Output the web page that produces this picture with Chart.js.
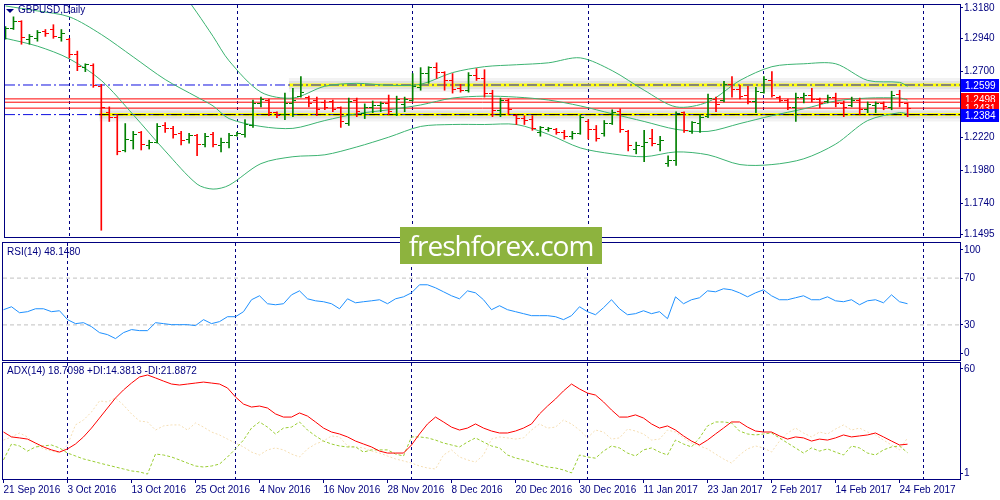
<!DOCTYPE html>
<html>
<head>
<meta charset="utf-8">
<title>GBPUSD Daily</title>
<script src="https://cdn.jsdelivr.net/npm/chart.js@4.4.1/dist/chart.umd.min.js"></script>
<style>
  html, body { margin: 0; padding: 0; background: #fff; }
  body { position: relative; width: 1000px; height: 500px; overflow: hidden; font-family: 'Liberation Sans', Arial, sans-serif; }
  canvas { position: absolute; left: 0; }
  #priceChart { top: 0; }
  #rsiChart { top: 242px; }
  #adxChart { top: 362px; }
  .caption { position: absolute; font-size: 10px; color: #000080; white-space: nowrap; }
  .arrow { position: absolute; left: 6px; top: 9px; width: 0; height: 0; border-left: 4px solid transparent; border-right: 4px solid transparent; border-top: 4px solid #000080; }
  .watermark { position: absolute; left: 400px; top: 227px; width: 202px; height: 37px; background: #8db33e; color: #fff; font-family: 'Open Sans', sans-serif; font-size: 28px; letter-spacing: -1px; line-height: 37px; text-align: center; }
</style>
</head>
<body>
<canvas id="priceChart" width="1000" height="242"></canvas>
<canvas id="rsiChart" width="1000" height="120"></canvas>
<canvas id="adxChart" width="1000" height="138"></canvas>
<div class="arrow"></div>
<div class="caption" style="left:18px;top:4px">GBPUSD,Daily</div>
<div class="caption" style="left:7px;top:246px">RSI(14) 48.1480</div>
<div class="caption" style="left:7px;top:365px">ADX(14) 18.7098 +DI:14.3813 -DI:21.8872</div>
<div class="watermark">freshforex.com</div>
<script>
// Bougies journalières : index 0 = 21 Sep 2016 ... index 113 = 27 Feb 2017
const opens = [
  1.2945, 1.3009, 1.3059, 1.2931, 1.2938, 1.2988, 1.3002, 1.2945, 1.2931, 1.2824,
  1.2725, 1.2739, 1.2590, 1.2398, 1.2362, 1.2120, 1.2198, 1.2255, 1.2163, 1.2184,
  1.2305, 1.2284, 1.2248, 1.2206, 1.2234, 1.2170, 1.2241, 1.2163, 1.2184, 1.2234,
  1.2241, 1.2305, 1.2462, 1.2490, 1.2398, 1.2383, 1.2462, 1.2518, 1.2511, 1.2490,
  1.2469, 1.2476, 1.2433, 1.2319, 1.2490, 1.2390, 1.2433, 1.2447, 1.2462, 1.2383,
  1.2454, 1.2490, 1.2582, 1.2682, 1.2725, 1.2689, 1.2632, 1.2575, 1.2561, 1.2668,
  1.2646, 1.2540, 1.2412, 1.2483, 1.2376, 1.2355, 1.2348, 1.2255, 1.2277, 1.2277,
  1.2255, 1.2227, 1.2248, 1.2334, 1.2277, 1.2248, 1.2319, 1.2405, 1.2262, 1.2134,
  1.2149, 1.2213, 1.2170, 1.2028, 1.2049, 1.2398, 1.2262, 1.2319, 1.2369, 1.2497,
  1.2490, 1.2604, 1.2568, 1.2526, 1.2476, 1.2547, 1.2632, 1.2511, 1.2490, 1.2433,
  1.2511, 1.2526, 1.2497, 1.2476, 1.2511, 1.2462, 1.2447, 1.2490, 1.2419, 1.2447,
  1.2462, 1.2433, 1.2533, 1.2462
];
const highs = [
  1.3023, 1.3094, 1.3066, 1.2966, 1.2995, 1.3002, 1.3037, 1.3002, 1.2938, 1.2845,
  1.2753, 1.2753, 1.2604, 1.2440, 1.2383, 1.2319, 1.2262, 1.2262, 1.2198, 1.2319,
  1.2326, 1.2298, 1.2262, 1.2248, 1.2241, 1.2248, 1.2255, 1.2213, 1.2248, 1.2255,
  1.2348, 1.2490, 1.2511, 1.2497, 1.2405, 1.2540, 1.2575, 1.2661, 1.2518, 1.2511,
  1.2490, 1.2490, 1.2440, 1.2504, 1.2504, 1.2462, 1.2483, 1.2476, 1.2526, 1.2518,
  1.2511, 1.2682, 1.2725, 1.2732, 1.2760, 1.2696, 1.2682, 1.2604, 1.2689, 1.2718,
  1.2710, 1.2561, 1.2504, 1.2497, 1.2383, 1.2376, 1.2376, 1.2298, 1.2291, 1.2284,
  1.2270, 1.2262, 1.2383, 1.2348, 1.2305, 1.2341, 1.2419, 1.2426, 1.2270, 1.2184,
  1.2270, 1.2277, 1.2227, 1.2085, 1.2405, 1.2405, 1.2334, 1.2383, 1.2533, 1.2511,
  1.2625, 1.2661, 1.2597, 1.2590, 1.2582, 1.2661, 1.2696, 1.2518, 1.2497, 1.2540,
  1.2540, 1.2575, 1.2504, 1.2526, 1.2540, 1.2483, 1.2511, 1.2504, 1.2476, 1.2476,
  1.2476, 1.2554, 1.2561, 1.2469
];
const lows = [
  1.2931, 1.3002, 1.2895, 1.2895, 1.2917, 1.2952, 1.2938, 1.2917, 1.2796, 1.2703,
  1.2696, 1.2582, 1.1544, 1.2334, 1.2092, 1.2113, 1.2134, 1.2127, 1.2134, 1.2177,
  1.2255, 1.2213, 1.2163, 1.2177, 1.2085, 1.2149, 1.2149, 1.2113, 1.2142, 1.2227,
  1.2220, 1.2291, 1.2440, 1.2376, 1.2362, 1.2348, 1.2369, 1.2511, 1.2440, 1.2376,
  1.2419, 1.2405, 1.2291, 1.2305, 1.2369, 1.2355, 1.2398, 1.2405, 1.2383, 1.2376,
  1.2405, 1.2483, 1.2561, 1.2611, 1.2646, 1.2561, 1.2540, 1.2547, 1.2547, 1.2632,
  1.2511, 1.2369, 1.2369, 1.2383, 1.2312, 1.2312, 1.2270, 1.2227, 1.2262, 1.2241,
  1.2206, 1.2206, 1.2241, 1.2206, 1.2191, 1.2227, 1.2312, 1.2255, 1.2120, 1.2099,
  1.2042, 1.2156, 1.2120, 1.2007, 1.2014, 1.2255, 1.2248, 1.2255, 1.2362, 1.2405,
  1.2476, 1.2511, 1.2497, 1.2462, 1.2398, 1.2540, 1.2511, 1.2476, 1.2419, 1.2334,
  1.2469, 1.2476, 1.2433, 1.2469, 1.2440, 1.2369, 1.2440, 1.2383, 1.2398, 1.2398,
  1.2419, 1.2419, 1.2440, 1.2369
];
const closes = [
  1.3009, 1.3059, 1.2945, 1.2952, 1.2981, 1.2973, 1.2952, 1.2973, 1.2824, 1.2732,
  1.2746, 1.2597, 1.2433, 1.2362, 1.2113, 1.2206, 1.2241, 1.2170, 1.2184, 1.2298,
  1.2284, 1.2241, 1.2198, 1.2234, 1.2170, 1.2227, 1.2170, 1.2184, 1.2234, 1.2248,
  1.2312, 1.2462, 1.2497, 1.2398, 1.2376, 1.2462, 1.2490, 1.2547, 1.2462, 1.2419,
  1.2433, 1.2419, 1.2334, 1.2476, 1.2405, 1.2433, 1.2447, 1.2462, 1.2405, 1.2497,
  1.2497, 1.2590, 1.2682, 1.2725, 1.2689, 1.2632, 1.2568, 1.2561, 1.2668, 1.2646,
  1.2540, 1.2412, 1.2483, 1.2419, 1.2355, 1.2341, 1.2284, 1.2291, 1.2284, 1.2255,
  1.2227, 1.2248, 1.2362, 1.2277, 1.2213, 1.2319, 1.2398, 1.2277, 1.2163, 1.2163,
  1.2184, 1.2177, 1.2198, 1.2049, 1.2390, 1.2270, 1.2326, 1.2362, 1.2504, 1.2454,
  1.2604, 1.2568, 1.2518, 1.2476, 1.2554, 1.2639, 1.2526, 1.2490, 1.2433, 1.2511,
  1.2526, 1.2497, 1.2462, 1.2511, 1.2462, 1.2433, 1.2490, 1.2419, 1.2454, 1.2462,
  1.2440, 1.2526, 1.2469, 1.2431
];

// Axe des temps
const dateTickBars = [0, 8, 16, 24, 32, 40, 48, 56, 64, 72, 80, 88, 96, 104, 112];
const dateLabels = ['21 Sep 2016', '3 Oct 2016', '13 Oct 2016', '25 Oct 2016', '4 Nov 2016',
  '16 Nov 2016', '28 Nov 2016', '8 Dec 2016', '20 Dec 2016', '30 Dec 2016', '11 Jan 2017',
  '23 Jan 2017', '2 Feb 2017', '14 Feb 2017', '24 Feb 2017'];
const monthStartBars = [8, 29, 51, 73, 95, 115];

// Échelle de prix
const priceTicks = [1.3180, 1.2940, 1.2700, 1.2220, 1.1980, 1.1740, 1.1495];

// Bandes de Bollinger
const bbBars = [0, 4, 8, 12, 16, 20, 24, 26, 28, 32, 36, 40, 44, 48, 52, 56, 60, 64, 68, 72,
  76, 80, 84, 88, 92, 96, 100, 104, 108, 112, 113];
const bbUpper = [null, null, null, null, null, 1.3450, 1.3123, 1.2952, 1.2775, 1.2547, 1.2504,
  1.2590, 1.2611, 1.2597, 1.2604, 1.2689, 1.2732, 1.2746, 1.2760, 1.2796, 1.2703, 1.2561,
  1.2440, 1.2476, 1.2632, 1.2732, 1.2753, 1.2753, 1.2632, 1.2618, 1.2590];
const bbMiddle = [1.3173, 1.3137, 1.3094, 1.2966, 1.2803, 1.2639, 1.2511, 1.2447, 1.2355, 1.2298,
  1.2284, 1.2341, 1.2390, 1.2419, 1.2454, 1.2504, 1.2518, 1.2511, 1.2490, 1.2447, 1.2390,
  1.2334, 1.2277, 1.2262, 1.2319, 1.2376, 1.2426, 1.2483, 1.2504, 1.2504, 1.2490];
const bbLower = [1.2938, 1.2881, 1.2789, 1.2632, 1.2383, 1.2120, 1.1879, 1.1843, 1.1871, 1.2028,
  1.2078, 1.2092, 1.2149, 1.2220, 1.2298, 1.2312, 1.2312, 1.2312, 1.2241, 1.2142, 1.2099,
  1.2078, 1.2113, 1.2092, 1.2021, 1.2021, 1.2063, 1.2170, 1.2341, 1.2398, 1.2390];

// Niveaux tracés à la main
const blueLevels = [1.2599, 1.2384];
const redLevels = [1.2498, 1.2474, 1.2431];
const zonePrices = [1.2599, 1.2384];
const zoneFromBar = [35.5, 11.75];
const tagPrices = [1.2599, 1.2498, 1.2431, 1.2384];

// RSI(14)
const rsiValues = [
  43.0, 45.5, 40.4, 41.3, 43.8, 43.8, 41.3, 42.1, 34.5, 31.1,
  31.9, 28.5, 23.4, 21.7, 18.3, 23.4, 26.0, 25.1, 25.1, 31.9,
  31.1, 30.2, 30.2, 30.2, 29.4, 34.5, 31.1, 32.8, 37.0, 37.0,
  41.3, 51.5, 54.9, 48.1, 47.2, 48.1, 55.7, 59.1, 52.3, 50.6,
  49.8, 48.1, 43.8, 52.3, 48.9, 49.8, 50.6, 51.5, 48.1, 52.3,
  54.0, 57.4, 64.3, 64.3, 61.7, 58.3, 54.9, 52.3, 59.1, 57.4,
  51.5, 43.0, 46.4, 43.0, 41.3, 39.6, 37.9, 37.9, 37.9, 37.0,
  34.5, 37.9, 45.5, 41.3, 38.7, 44.7, 51.5, 43.8, 38.7, 39.6,
  42.1, 39.6, 41.3, 35.3, 54.0, 48.1, 51.5, 53.2, 59.1, 58.3,
  60.9, 60.0, 57.4, 54.0, 57.4, 60.0, 54.9, 51.5, 51.5, 53.2,
  54.9, 51.5, 51.5, 54.0, 50.6, 49.8, 51.5, 47.2, 50.6, 51.5,
  48.9, 55.7, 49.8, 48.1
];
const rsiLevels = [70, 30];
const rsiTicks = [100, 70, 30, 0];

// ADX(14), +DI, -DI
const adxValues = [
  24.9, 22.4, 21.9, 21.3, 19.3, 17.3, 15.8, 14.7, 16.3, 18.8,
  22.4, 26.9, 32.0, 37.1, 42.2, 46.3, 49.8, 52.9, 53.9, 52.4,
  50.8, 49.3, 48.8, 49.3, 49.8, 50.3, 49.8, 49.3, 47.3, 42.7,
  39.1, 37.6, 38.1, 37.1, 34.1, 32.5, 32.5, 34.6, 33.0, 30.0,
  26.9, 24.9, 23.9, 22.4, 20.3, 18.8, 17.3, 15.2, 14.2, 14.2,
  14.2, 18.3, 23.9, 29.0, 32.5, 30.0, 27.4, 25.9, 26.9, 29.0,
  26.9, 25.4, 24.4, 24.4, 25.4, 26.9, 29.0, 34.1, 38.1, 41.7,
  45.8, 49.3, 46.8, 44.7, 43.7, 40.2, 36.1, 32.5, 32.5, 33.6,
  32.0, 29.0, 26.9, 28.0, 25.9, 22.9, 20.3, 18.3, 20.8, 23.9,
  26.9, 30.0, 30.0, 27.4, 25.4, 24.9, 24.9, 22.9, 21.3, 22.4,
  21.9, 20.3, 21.3, 20.8, 21.9, 23.4, 22.4, 22.9, 23.4, 24.4,
  22.4, 20.3, 18.3, 18.7
];
const plusDI = [
  10.7, 18.8, 17.8, 15.2, 17.3, 17.8, 18.3, 16.8, 14.2, 12.7,
  11.2, 10.2, 9.1, 8.1, 7.1, 6.1, 5.1, 4.6, 3.5, 13.7,
  13.2, 12.2, 10.7, 9.1, 7.6, 7.1, 7.6, 8.6, 12.2, 16.3,
  20.8, 26.9, 30.0, 27.4, 23.9, 26.9, 27.4, 30.0, 25.9, 22.9,
  20.3, 18.8, 17.8, 17.3, 17.3, 14.7, 15.8, 15.8, 15.8, 13.7,
  12.7, 22.4, 22.4, 21.9, 20.8, 19.3, 18.3, 17.3, 19.8, 21.9,
  19.8, 17.8, 16.8, 13.2, 11.7, 10.7, 9.6, 8.1, 7.1, 6.6,
  5.6, 4.1, 13.2, 12.2, 11.6, 15.2, 17.8, 16.8, 14.2, 12.7,
  15.8, 16.8, 14.7, 13.2, 20.8, 18.8, 17.3, 21.9, 28.0, 30.0,
  30.0, 29.5, 25.4, 23.9, 23.4, 23.9, 24.4, 21.9, 19.3, 16.8,
  14.2, 16.8, 15.2, 16.3, 14.7, 13.2, 17.8, 16.8, 14.2, 13.2,
  15.8, 17.3, 17.8, 14.4
];
const minusDI = [
  20.8, 22.4, 24.4, 22.4, 18.8, 16.3, 15.2, 14.2, 18.3, 28.5,
  31.0, 35.1, 40.7, 40.2, 42.2, 38.6, 34.1, 30.5, 30.0, 25.9,
  28.0, 28.5, 28.5, 25.9, 29.5, 27.4, 24.9, 23.4, 21.3, 19.3,
  17.3, 14.7, 13.2, 15.8, 16.8, 15.8, 13.7, 12.2, 16.3, 18.8,
  20.3, 22.9, 22.4, 17.8, 17.3, 16.8, 15.2, 14.2, 12.7, 11.2,
  10.2, 9.1, 7.6, 6.6, 6.1, 13.2, 15.8, 12.2, 10.7, 9.6,
  13.2, 21.3, 22.4, 21.9, 21.3, 21.9, 25.9, 29.0, 26.9, 27.4,
  31.0, 29.0, 25.9, 21.9, 25.9, 24.9, 21.3, 21.9, 26.4, 25.4,
  23.9, 20.8, 21.3, 25.9, 24.9, 21.9, 19.3, 17.8, 16.3, 13.7,
  11.2, 9.1, 13.2, 16.3, 17.8, 16.8, 14.7, 20.3, 24.4, 26.9,
  24.4, 22.4, 24.9, 23.9, 26.4, 28.5, 25.9, 26.9, 24.9, 23.4,
  20.8, 18.3, 15.8, 21.9
];
const adxTicks = [60, 1];

const NAVY = '#000080';
const UP = '#008000';
const DOWN = '#ff0000';
const FONT = "'Liberation Sans', Arial, sans-serif";
// 8 px par barre ; le demi-pixel garde les barres de 1 px nettes
const X_MIN = -0.0625;
const X_MAX = 119.5625;

Chart.defaults.font.family = FONT;
Chart.defaults.font.size = 10;

const isUp = closes.map((c, i) => c >= opens[i]);

// petits traits d'ouverture / clôture (gauche / droite de la barre)
function tickImage(color, side) {
  const c = document.createElement('canvas');
  c.width = 7; c.height = 1;
  const g = c.getContext('2d');
  g.fillStyle = color;
  g.fillRect(side < 0 ? 0 : 4, 0, 3, 1);
  return c;
}
const tickImgs = {
  upL: tickImage(UP, -1), upR: tickImage(UP, 1),
  dnL: tickImage(DOWN, -1), dnR: tickImage(DOWN, 1)
};

const series = values => values.map((v, i) => ({ x: i, y: v }));
const sampled = (bars, values) => values.map((v, k) => ({ x: bars[k], y: v }));
const flat = (price, from) => [{ x: from, y: price }, { x: X_MAX, y: price }];

// ticks de l'axe Y, ceux des bords sont rentrés de quelques pixels comme dans MT4
function fixedTicks(values, panelPx, edgePx) {
  return function (scale) {
    const step = (scale.max - scale.min) * edgePx / panelPx;
    scale.ticks = values.map(v => ({
      value: v >= scale.max ? v - step : (v <= scale.min ? v + step : v)
    }));
  };
}

function rightAxis(min, max, buildTicks, labels) {
  return {
    position: 'right', min, max,
    afterBuildTicks: buildTicks,
    afterFit(s) { s.width = 40; s.paddingTop = 0; s.paddingBottom = 0; },
    grid: { drawOnChartArea: false, drawTicks: true, tickLength: 3, color: NAVY },
    border: { display: false },
    ticks: { autoSkip: false, padding: 1, color: NAVY, font: { size: 10 }, callback: (v, i) => labels[i] }
  };
}

function monthAxis() {
  return {
    type: 'linear', position: 'top', min: X_MIN, max: X_MAX, offset: false,
    afterBuildTicks(s) { s.ticks = monthStartBars.map(v => ({ value: v })); },
    afterFit(s) { s.height = 0; s.paddingLeft = 0; s.paddingRight = 0; },
    grid: { color: NAVY, lineWidth: 1, drawTicks: false, offset: false },
    border: { display: false, dash: [3, 3] },
    ticks: { display: false }
  };
}

const frame = {
  id: 'frame',
  afterDraw(chart) {
    const { ctx, chartArea: a } = chart;
    ctx.save();
    ctx.strokeStyle = NAVY;
    ctx.lineWidth = 1;
    ctx.strokeRect(a.left - 0.5, a.top - 0.5, a.right - a.left + 1, a.bottom - a.top + 1);
    ctx.restore();
  }
};

const tagColors = ['#0000ff', '#ff0000', '#ff0000', '#0000ff'];
const priceTags = {
  id: 'priceTags',
  afterDraw(chart) {
    const { ctx, chartArea: a, scales } = chart;
    ctx.save();
    ctx.font = '10px ' + FONT;
    ctx.textBaseline = 'middle';
    tagPrices.forEach((p, k) => {
      const yy = Math.round(scales.y.getPixelForValue(p));
      ctx.fillStyle = tagColors[k];
      ctx.fillRect(a.right + 1, yy - 6, 38, 13);
      ctx.fillStyle = '#ffffff';
      ctx.fillText(p.toFixed(4), a.right + 5, yy + 1);
    });
    ctx.restore();
  }
};

const line = (data, color, extra) => Object.assign({
  type: 'line', data, borderColor: color, borderWidth: 1, pointRadius: 0, fill: false, tension: 0
}, extra || {});

const baseOptions = (padding, scales) => ({
  responsive: false,
  animation: false,
  events: [],
  layout: { padding },
  plugins: { legend: { display: false }, tooltip: { enabled: false } },
  scales
});

// 1. Graphique principal : barres OHLC + Bollinger + niveaux
const priceDatasets = [];
zonePrices.forEach((p, k) => {
  priceDatasets.push(line(flat(p, zoneFromBar[k]), 'rgba(0,0,0,0.05)', { borderWidth: 14, order: 20 }));
  priceDatasets.push(line(flat(p, zoneFromBar[k]), 'rgba(0,0,0,0.07)', { borderWidth: 8, order: 19 }));
  priceDatasets.push(line(flat(p, zoneFromBar[k]), '#ffff00', { borderWidth: 3, order: 18 }));
});
blueLevels.forEach(p => {
  priceDatasets.push(line(flat(p, X_MIN), '#1010e0', { borderDash: [10, 3, 2, 3], order: 17 }));
});
priceDatasets.push(line(flat(zonePrices[1], zoneFromBar[1]), '#000000', { borderDash: [10, 3, 2, 3], order: 16 }));
redLevels.forEach(p => {
  priceDatasets.push(line(flat(p, X_MIN), '#ff0000', { order: 15 }));
});
[bbUpper, bbMiddle, bbLower].forEach(band => {
  priceDatasets.push(line(sampled(bbBars, band), '#3cb371', { tension: 0.3, order: 10 }));
});
priceDatasets.push({
  type: 'bar',
  data: highs.map((h, i) => ({ x: i, y: [lows[i], h] })),
  backgroundColor: isUp.map(u => u ? UP : DOWN),
  borderWidth: 0,
  barThickness: 1,
  order: 3
});
priceDatasets.push({
  type: 'line', showLine: false, data: series(opens), pointRadius: 2,
  pointStyle: c => isUp[c.dataIndex] ? tickImgs.upL : tickImgs.dnL, order: 2
});
priceDatasets.push({
  type: 'line', showLine: false, data: series(closes), pointRadius: 2,
  pointStyle: c => isUp[c.dataIndex] ? tickImgs.upR : tickImgs.dnR, order: 1
});

new Chart(document.getElementById('priceChart'), {
  type: 'line',
  data: { datasets: priceDatasets },
  options: baseOptions({ left: 3, top: 3, right: 0, bottom: 2 }, {
    x: monthAxis(),
    y: rightAxis(1.1495, 1.3180, fixedTicks(priceTicks, 237, 3), priceTicks.map(v => v.toFixed(4)))
  }),
  plugins: [frame, priceTags]
});

// 2. RSI(14)
const rsiDatasets = rsiLevels.map(l => line(flat(l, X_MIN), '#c0c0c0', { borderDash: [4, 3], order: 5 }));
rsiDatasets.push(line(series(rsiValues), '#1e90ff', { order: 1 }));

new Chart(document.getElementById('rsiChart'), {
  type: 'line',
  data: { datasets: rsiDatasets },
  options: baseOptions({ left: 3, top: 1, right: 0, bottom: 2 }, {
    x: monthAxis(),
    y: rightAxis(0, 100, fixedTicks(rsiTicks, 117, 7), rsiTicks.map(String))
  }),
  plugins: [frame]
});

// 3. ADX(14) avec +DI / -DI
new Chart(document.getElementById('adxChart'), {
  type: 'line',
  data: {
    datasets: [
      line(series(adxValues), '#ff0000', { order: 1 }),
      line(series(plusDI), '#9acd32', { borderDash: [3, 2], order: 2 }),
      line(series(minusDI), '#f5deb3', { borderDash: [2, 2], order: 3 })
    ]
  },
  options: baseOptions({ left: 3, top: 1, right: 0, bottom: 0 }, {
    x: monthAxis(),
    xl: {
      type: 'linear', position: 'bottom', min: X_MIN, max: X_MAX, offset: false,
      afterBuildTicks(s) { s.ticks = dateTickBars.map(v => ({ value: v })); },
      afterFit(s) { s.height = 21; s.paddingLeft = 0; s.paddingRight = 0; },
      grid: { drawOnChartArea: false, drawTicks: true, tickLength: 4, color: NAVY },
      border: { display: false },
      ticks: { autoSkip: false, maxRotation: 0, align: 'start', padding: 1, color: NAVY,
        font: { size: 10 }, callback: (v, i) => dateLabels[i] }
    },
    y: rightAxis(1, 60, fixedTicks(adxTicks, 116, 6), adxTicks.map(String))
  }),
  plugins: [frame]
});
</script>
</body>
</html>
